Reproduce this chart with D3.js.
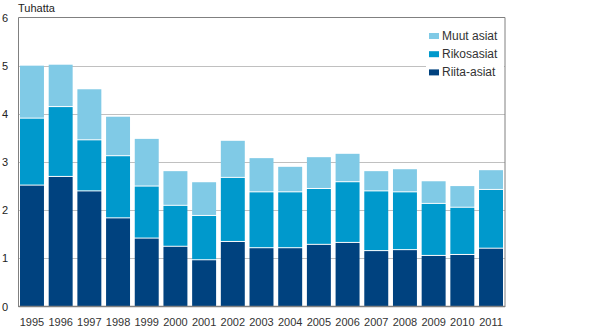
<!DOCTYPE html>
<html>
<head>
<meta charset="utf-8">
<script src="https://cdn.jsdelivr.net/npm/d3@7"></script>
<style>
  body { margin: 0; background: #fff; }
  text { font-family: "Liberation Sans", Arial, sans-serif; }
</style>
</head>
<body>
<svg id="chart" width="590" height="328"></svg>
<script>
// data (thousands)
var years = ["1995","1996","1997","1998","1999","2000","2001","2002","2003","2004","2005","2006","2007","2008","2009","2010","2011"];
var riita = [2.51, 2.69, 2.39, 1.83, 1.41, 1.24, 0.96, 1.34, 1.21, 1.21, 1.28, 1.32, 1.15, 1.17, 1.05, 1.07, 1.20];
var rikos = [1.39, 1.45, 1.06, 1.29, 1.08, 0.85, 0.92, 1.33, 1.16, 1.16, 1.16, 1.26, 1.24, 1.20, 1.08, 0.98, 1.22];
var muut  = [1.10, 0.88, 1.06, 0.82, 0.99, 0.72, 0.70, 0.77, 0.71, 0.53, 0.66, 0.59, 0.42, 0.48, 0.47, 0.45, 0.41];
var seriesNames = ["Riita-asiat", "Rikosasiat", "Muut asiat"];
var colors = ["#00427f", "#0099cc", "#80cae6"];
var yTicks = [0, 1, 2, 3, 4, 5, 6];

var svg = d3.select("#chart");
// plot box (note: "top" is a reserved window global, so use plot* names)
var plotLeft = 18.5, plotRight = 505, plotTop = 17.5, plotBottom = 306.5;

var rows = years.map(function(yr, i) {
  return { year: yr, "Riita-asiat": riita[i], "Rikosasiat": rikos[i], "Muut asiat": muut[i] };
});
var stacked = d3.stack().keys(seriesNames)(rows);

var x = d3.scaleBand().domain(years).range([20, 503]).paddingInner(0.165).paddingOuter(0);
var y = d3.scaleLinear().domain([0, 6]).range([plotBottom, plotTop]);

// gridlines
svg.append("g").selectAll("line")
  .data(yTicks.filter(function(t) { return t > 0 && t < 6; }))
  .enter().append("line")
  .attr("x1", plotLeft).attr("x2", plotRight)
  .attr("y1", function(d) { return Math.round(y(d)) + 0.5; })
  .attr("y2", function(d) { return Math.round(y(d)) + 0.5; })
  .attr("stroke", "#c0c0c0").attr("stroke-width", 1);

// bars
svg.append("g").selectAll("g")
  .data(stacked)
  .enter().append("g")
  .attr("fill", function(d, i) { return colors[i]; })
  .selectAll("rect")
  .data(function(d, i) { return d.map(function(p) { p.layer = i; return p; }); })
  .enter().append("rect")
  .attr("x", function(d) { return x(d.data.year); })
  .attr("width", x.bandwidth())
  .attr("y", function(d) { return y(d[1]); })
  .attr("height", function(d) { return y(d[0]) - y(d[1]) - (d.layer > 0 ? 1 : 0); });

// frame
var frame = svg.append("g").attr("stroke", "#808080").attr("fill", "none");
frame.append("line").attr("x1", plotLeft).attr("x2", plotRight).attr("y1", plotTop).attr("y2", plotTop);
frame.append("line").attr("x1", plotLeft).attr("x2", plotLeft).attr("y1", plotTop).attr("y2", plotBottom + 0.5);
frame.append("line").attr("x1", plotRight).attr("x2", plotRight).attr("y1", plotTop).attr("y2", plotBottom + 0.5);
frame.append("line").attr("x1", plotLeft).attr("x2", plotRight).attr("y1", plotBottom).attr("y2", plotBottom).attr("stroke-width", 1.5);

// y labels
svg.append("g").selectAll("text")
  .data(yTicks)
  .enter().append("text")
  .attr("x", 2).attr("y", function(d) { return y(d) + 4; })
  .attr("font-size", 11).attr("fill", "#222")
  .text(function(d) { return d; });

svg.append("text").attr("x", 18).attr("y", 12)
  .attr("font-size", 11).attr("fill", "#222").text("Tuhatta");

// x labels
svg.append("g").selectAll("text")
  .data(years)
  .enter().append("text")
  .attr("x", function(d) { return x(d) + x.bandwidth() / 2; })
  .attr("y", 326)
  .attr("text-anchor", "middle")
  .attr("font-size", 11).attr("fill", "#333")
  .text(function(d) { return d; });

// legend
var legend = svg.append("g");
legend.append("rect").attr("x", 426).attr("y", 28).attr("width", 78).attr("height", 52).attr("fill", "#fff");
var legendItems = seriesNames.slice().reverse();
legendItems.forEach(function(name, i) {
  var cy = 36 + i * 18.2;
  legend.append("rect").attr("x", 429).attr("y", cy - 3).attr("width", 10).attr("height", 6)
    .attr("fill", colors[seriesNames.indexOf(name)]);
  legend.append("text").attr("x", 442).attr("y", cy + 4)
    .attr("font-size", 12).attr("fill", "#333").text(name);
});
</script>
</body>
</html>
